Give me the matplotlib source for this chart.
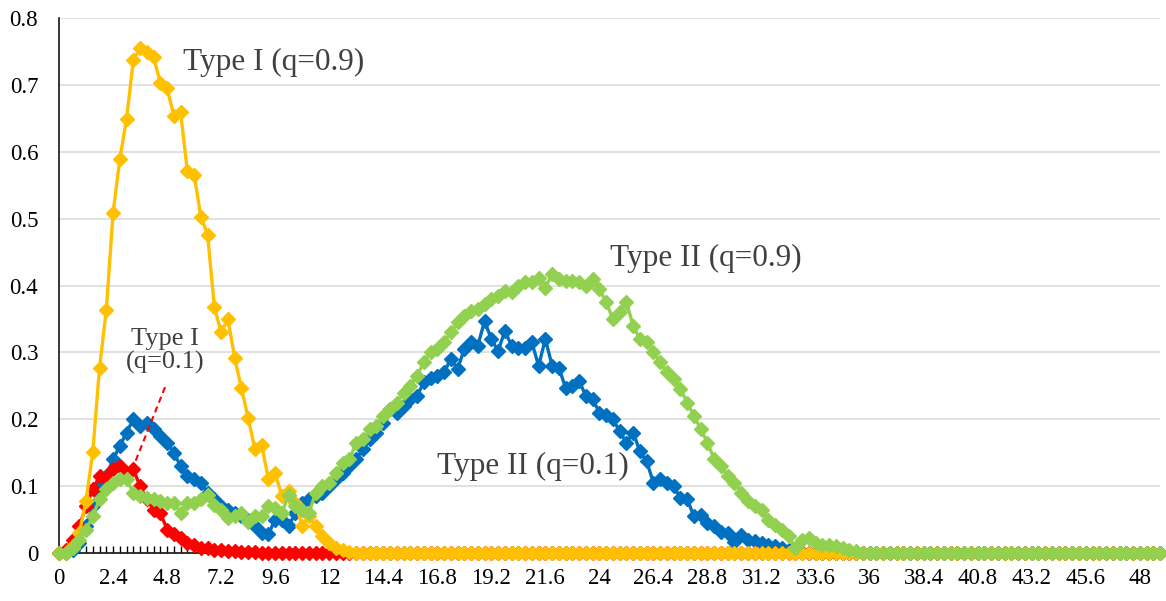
import matplotlib
matplotlib.use("Agg")
import matplotlib.pyplot as plt
import numpy as np

# category axis: 0, 0.3, 0.6 ... 48.9
x_step = 0.3
n_points = 164
tick_labels = ["0", "2.4", "4.8", "7.2", "9.6", "12", "14.4", "16.8", "19.2", "21.6",
               "24", "26.4", "28.8", "31.2", "33.6", "36", "38.4", "40.8", "43.2",
               "45.6", "48"]
tick_values = [0, 2.4, 4.8, 7.2, 9.6, 12, 14.4, 16.8, 19.2, 21.6,
               24, 26.4, 28.8, 31.2, 33.6, 36, 38.4, 40.8, 43.2, 45.6, 48]

type1_q09 = [0, 0, 0.01, 0.03, 0.078, 0.151, 0.277, 0.363, 0.508, 0.589,
             0.649, 0.737, 0.755, 0.750, 0.742, 0.703, 0.695, 0.654, 0.659, 0.571,
             0.566, 0.503, 0.476, 0.368, 0.330, 0.350, 0.292, 0.247, 0.202, 0.156,
             0.161, 0.111, 0.119, 0.085, 0.093, 0.075, 0.040, 0.055, 0.040, 0.025,
             0.015, 0.008, 0.005, 0.002] + [0.0] * 120

type1_q01 = [0, 0.005, 0.02, 0.04, 0.07, 0.095, 0.115, 0.112, 0.125, 0.13,
             0.12, 0.125, 0.1, 0.08, 0.065, 0.06, 0.035, 0.028, 0.022, 0.015,
             0.012, 0.008, 0.008, 0.005, 0.004, 0.003, 0.003, 0.002, 0.002, 0.001] + [0.0] * 134

type2_q01 = [0, 0, 0.005, 0.015, 0.04, 0.07, 0.1, 0.115, 0.14, 0.16,
             0.18, 0.2, 0.19, 0.195, 0.185, 0.175, 0.165, 0.15, 0.13, 0.115,
             0.11, 0.105, 0.09, 0.08, 0.07, 0.065, 0.06, 0.055, 0.05, 0.04,
             0.03, 0.028, 0.05, 0.05, 0.04, 0.06, 0.075, 0.08, 0.085, 0.09,
             0.1, 0.11, 0.12, 0.13, 0.14, 0.155, 0.17, 0.18, 0.195, 0.215,
             0.21, 0.22, 0.23, 0.235, 0.255, 0.262, 0.265, 0.27, 0.29, 0.275,
             0.305, 0.315, 0.31, 0.347, 0.32, 0.302, 0.332, 0.31, 0.307, 0.307,
             0.315, 0.28, 0.32, 0.28, 0.277, 0.247, 0.25, 0.257, 0.235, 0.23,
             0.21, 0.207, 0.2, 0.182, 0.165, 0.18, 0.152, 0.137, 0.105, 0.11,
             0.105, 0.1, 0.082, 0.08, 0.055, 0.057, 0.045, 0.04, 0.032, 0.03,
             0.017, 0.027, 0.02, 0.018, 0.015, 0.012, 0.01, 0.008, 0.005, 0.003,
             0.002] + [0.0] * 53

type2_q09 = [0, 0, 0.008, 0.02, 0.035, 0.055, 0.08, 0.095, 0.105, 0.11,
             0.11, 0.09, 0.085, 0.082, 0.08, 0.078, 0.075, 0.075, 0.06, 0.075,
             0.075, 0.08, 0.087, 0.072, 0.065, 0.052, 0.055, 0.06, 0.047, 0.055,
             0.055, 0.07, 0.067, 0.06, 0.087, 0.07, 0.065, 0.06, 0.09, 0.1,
             0.105, 0.12, 0.135, 0.14, 0.165, 0.17, 0.185, 0.19, 0.205, 0.215,
             0.225, 0.24, 0.25, 0.265, 0.285, 0.3, 0.305, 0.315, 0.33, 0.345,
             0.355, 0.362, 0.365, 0.372, 0.38, 0.385, 0.392, 0.39, 0.4, 0.405,
             0.405, 0.412, 0.397, 0.417, 0.41, 0.407, 0.407, 0.405, 0.4, 0.41,
             0.395, 0.375, 0.35, 0.36, 0.375, 0.34, 0.32, 0.315, 0.3, 0.285,
             0.27, 0.26, 0.245, 0.225, 0.205, 0.185, 0.165, 0.14, 0.13, 0.115,
             0.105, 0.09, 0.078, 0.07, 0.065, 0.05, 0.042, 0.035, 0.025, 0.008,
             0.02, 0.022, 0.015, 0.012, 0.012, 0.01, 0.008, 0.005, 0.003] + [0.0] * 45

x = np.arange(n_points) * x_step

plt.rcParams['font.family'] = ['Liberation Serif', 'DejaVu Serif']

fig = plt.figure(figsize=(11.66, 6.01), dpi=100)
ax = fig.add_axes([0.0506, 0.0799, 0.9443, 0.890])

style = dict(marker='D', markersize=7.4, linewidth=2.4, clip_on=False)
ax.plot(x, type2_q01, color='#0070C0', zorder=3, **style)
ax.plot(x, type1_q01, color='#FF0000', zorder=4, **style)
ax.plot(x, type1_q09, color='#FFC000', zorder=5, **style)
ax.plot(x, type2_q09, color='#92D050', zorder=6, **style)

ax.set_xlim(0, (n_points - 1) * x_step)
ax.set_ylim(0, 0.8)
ax.set_yticks(np.arange(0, 0.81, 0.1))
ax.set_yticklabels(["0", "0.1", "0.2", "0.3", "0.4", "0.5", "0.6", "0.7", "0.8"])
ax.set_xticks(tick_values)
ax.set_xticklabels(tick_labels)
ax.set_xticks(x, minor=True)

ax.grid(axis='y', color='#d9d9d9', linewidth=1.1)
ax.set_axisbelow(True)
for side in ['top', 'right']:
    ax.spines[side].set_visible(False)
for side in ['left', 'bottom']:
    ax.spines[side].set_color('black')
    ax.spines[side].set_linewidth(1.1)
    ax.spines[side].set_zorder(2)

ax.tick_params(axis='x', which='both', direction='in', length=5, width=1,
               color='black', labelsize=16.5, pad=11)
ax.tick_params(axis='y', length=0, labelsize=16.5, pad=15)

# annotations
txt = dict(color='#404040', family=['Liberation Serif', 'DejaVu Serif'])
ax.text(5.51, 0.734, "Type I (q=0.9)", fontsize=22.5, ha='left', va='center', **txt)
ax.text(24.47, 0.441, "Type II (q=0.9)", fontsize=22.5, ha='left', va='center', **txt)
ax.text(16.79, 0.130, "Type II (q=0.1)", fontsize=22.5, ha='left', va='center', **txt)
ax.text(4.71, 0.302, "Type I\n(q=0.1)", fontsize=19, ha='center', va='center',
        multialignment='center', linespacing=1.1, **txt)
ax.plot([4.71, 3.37], [0.248, 0.135], linestyle=(0, (3, 2)), color='#FF0000',
        linewidth=1.5, zorder=7)

fig.savefig("out.png", dpi=100)
